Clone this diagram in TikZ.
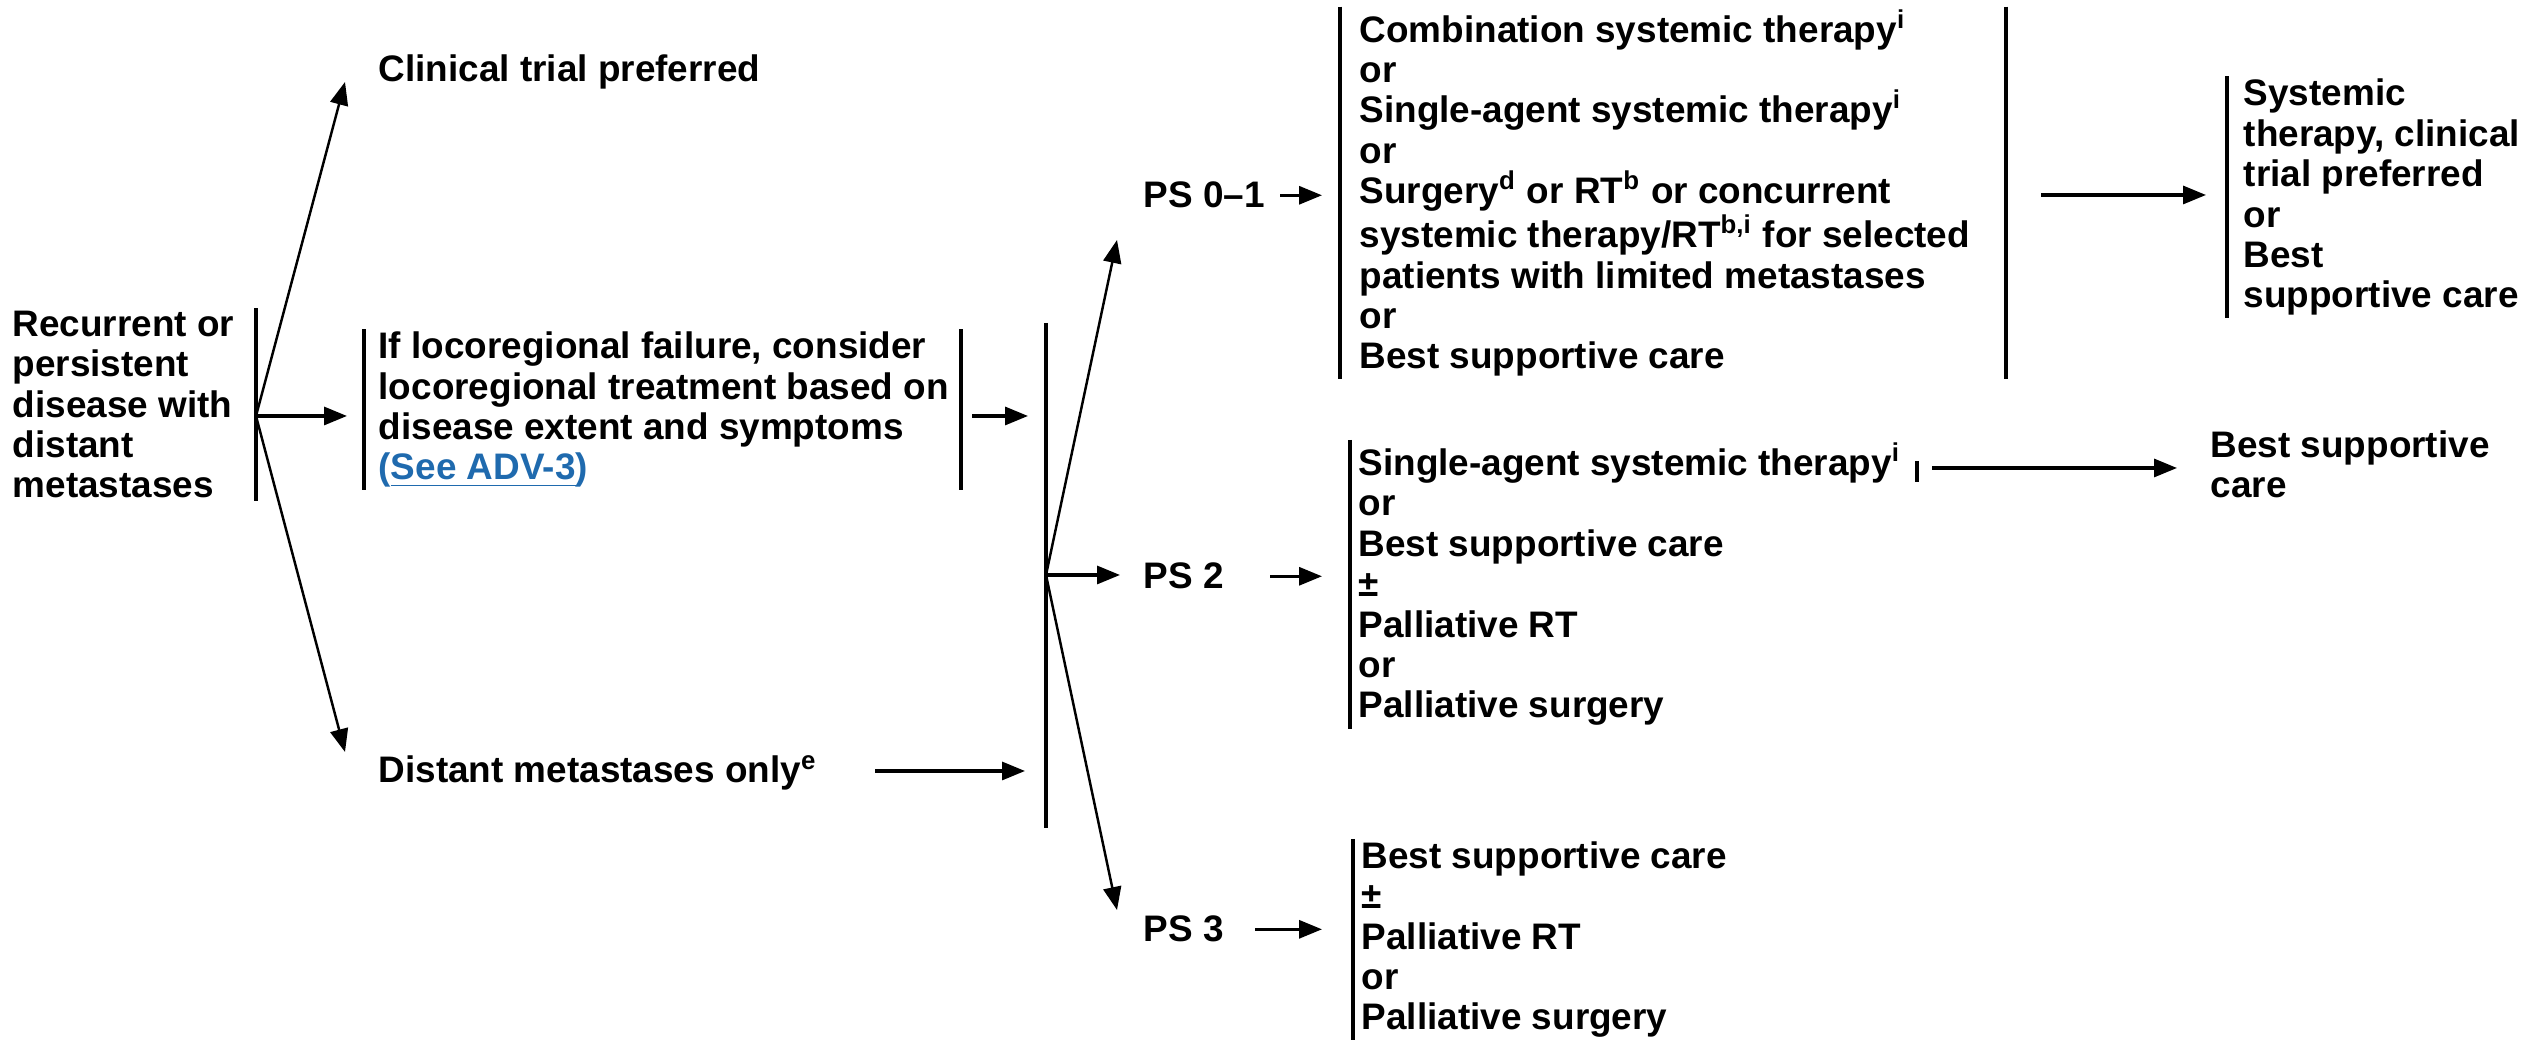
\documentclass[tikz,border=0pt]{standalone}
\usepackage{fontspec}
\setmainfont{Liberation Sans}
\usepackage{tikz}
\usetikzlibrary{arrows.meta,positioning}
\definecolor{linkblue}{HTML}{1F6AAE}

\begin{document}
\begin{tikzpicture}[
  every node/.style={font=\fontsize{10.5}{11.5}\selectfont\bfseries},
  txt/.style={anchor=base west, align=left, inner xsep=0pt, inner ysep=0.6pt},
  arrow/.style={-{Triangle[length=2.3mm,width=1.8mm]}, line width=0.9pt},
  branch/.style={-{Triangle[length=2.3mm,width=1.8mm]}, line width=0.7pt},
  bar/.style={line width=0.9pt}
]
\useasboundingbox (0,0) rectangle (25.29,10.40);

% first column (multi-line nodes sit on their last baseline)
\node[txt] (recur) at (0.12,5.42) {Recurrent or\\persistent\\disease with\\distant\\metastases};
\coordinate (hubA) at (2.56,6.24);
\draw[bar] (recur.north -| hubA) -- (recur.south -| hubA);

\node[txt] (trial) at (3.78,9.58) {Clinical trial preferred};

\node[txt, inner xsep=1.4mm] (loco) at (3.64,5.60) {If locoregional failure, consider\\locoregional treatment based on\\disease extent and symptoms\\{\color{linkblue}(\underline{See ADV-3})}};
\coordinate (locoR) at (9.61,6.24);
\draw[bar] (loco.north west) -- (loco.south west);
\draw[bar] (loco.north -| locoR) -- (loco.south -| locoR);

\node[txt] (distant) at (3.78,2.57) {Distant metastases only\textsuperscript{e}};

% gate before PS
\coordinate (gateT) at (10.46,7.17);
\coordinate (gateB) at (10.46,2.12);
\coordinate (hubB) at (10.46,4.65);
\draw[bar] (gateT) -- (gateB);

% PS column
\node[txt] (ps01) at (11.43,8.32) {PS 0--1};
\node[txt] (ps2) at (11.43,4.51) {PS 2};
\node[txt] (ps3) at (11.43,0.98) {PS 3};

% treatment lists
\node[txt, inner xsep=1.9mm] (ps01list) at (13.40,6.71) {Combination systemic therapy\textsuperscript{i}\\or\\Single-agent systemic therapy\textsuperscript{i}\\or\\Surgery\textsuperscript{d} or RT\textsuperscript{b} or concurrent\\systemic therapy/RT\textsuperscript{b,i} for selected\\patients with limited metastases\\or\\Best supportive care};
\coordinate (ps01R) at (20.06,8.45);
\draw[bar] (ps01list.north west) -- (ps01list.south west);
\draw[bar] (ps01list.north -| ps01R) -- (ps01list.south -| ps01R);

\node[txt, inner xsep=0.8mm] (ps2list) at (13.50,3.22) {Single-agent systemic therapy\textsuperscript{i}\\or\\Best supportive care\\±\\Palliative RT\\or\\Palliative surgery};
\coordinate (ps2R) at (19.17,5.72);
\draw[bar] (ps2list.north west) -- (ps2list.south west);
\draw[bar] ([yshift=0.07cm]ps2R) -- ([yshift=-0.14cm]ps2R);

\node[txt, inner xsep=0.8mm] (ps3list) at (13.53,0.10) {Best supportive care\\±\\Palliative RT\\or\\Palliative surgery};
\draw[bar] (ps3list.north west) -- (ps3list.south west);

% last column
\node[txt, inner xsep=1.6mm] (sysc) at (22.27,7.32) {Systemic\\therapy, clinical\\trial preferred\\or\\Best\\supportive care};
\draw[bar] (sysc.north west) -- (sysc.south west);

\node[txt] (bsc) at (22.10,5.42) {Best supportive\\care};

% connectors
\draw[branch] (hubA) -- ([xshift=-3.3mm]trial.base west);
\draw[arrow, shorten >=1.7mm] (hubA) -- (hubA -| loco.west);
\draw[branch] (hubA) -- ([xshift=-3.3mm,yshift=3.1mm]distant.base west);
\draw[arrow, shorten <=1.1mm, shorten >=1.8mm] (locoR) -- (locoR -| gateT);
\draw[arrow, shorten <=5.7mm, shorten >=2.1mm] ([yshift=1.2mm]distant.base east) -- ([yshift=1.2mm]distant.base east -| gateT);

\draw[branch] (hubB) -- ([xshift=-2.6mm,yshift=-3.2mm]ps01.base west);
\draw[arrow, shorten >=2.3mm] (hubB) -- (hubB -| ps2.west);
\draw[branch] (hubB) -- ([xshift=-2.6mm,yshift=3.2mm]ps3.base west);

\draw[arrow, shorten <=1.5mm, shorten >=1.8mm] (ps01.east) -- (ps01.east -| ps01list.west);
\draw[arrow, shorten <=4.6mm, shorten >=2.8mm] (ps2.east) -- (ps2.east -| ps2list.west);
\draw[arrow, shorten <=3.1mm, shorten >=3.1mm] (ps3.east) -- (ps3.east -| ps3list.west);

\draw[arrow, shorten <=3.5mm, shorten >=2.1mm] (ps01R) -- (ps01R -| sysc.west);
\draw[arrow, shorten <=1.5mm, shorten >=3.3mm] (ps2R) -- (ps2R -| bsc.west);
\end{tikzpicture}
\end{document}
